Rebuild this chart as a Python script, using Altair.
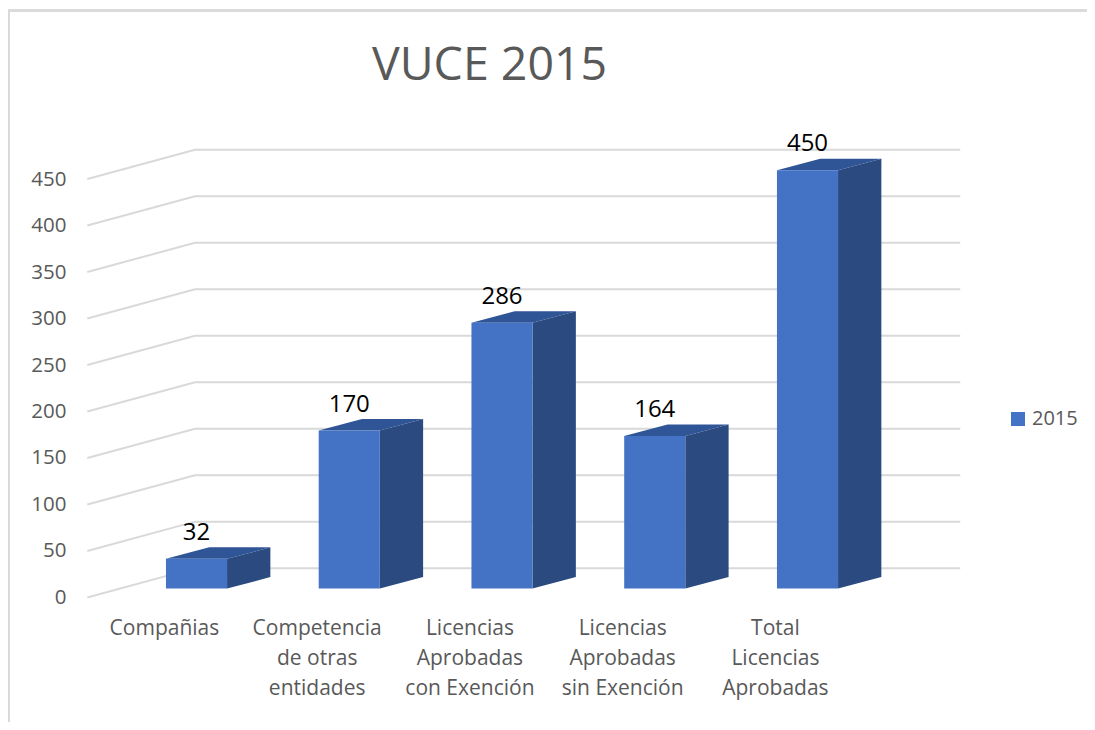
import altair as alt
import pandas as pd

# --- chart values ---
TITLE = "VUCE 2015"
SERIES = "2015"
categories = [
    "Compañias",
    "Competencia\nde otras\nentidades",
    "Licencias\nAprobadas\ncon Exención",
    "Licencias\nAprobadas\nsin Exención",
    "Total\nLicencias\nAprobadas",
]
values = [32, 170, 286, 164, 450]
y_ticks = [0, 50, 100, 150, 200, 250, 300, 350, 400, 450]

FONT = "Open Sans"
GREY = "#595959"
FRONT, SIDE, TOP = "#4472C4", "#2A4A80", "#2F5597"
GRID = "#D9D9D9"

# 3-D projection constants, expressed in the units of the two scales
HALF = 0.2         # half a bar, in category units
DEPTH_X = 0.2835   # bar depth, in category units
DEPTH_Y = 12.4     # bar depth, in value units
FLOOR = 9.5        # how far the bars' base sits above the front axis zero
WALL_X0, WALL_X1, WALL_X2 = -0.715, -0.01, 5.0
WALL_Y = 31.5
LABEL_DX = -0.21
LABEL_Y = -22

W, H = 1079, 714
x_scale = alt.Scale(domain=[-1.2341, 5.8298], nice=False, zero=False)
y_scale = alt.Scale(domain=[-134.0, 634.0], nice=False, zero=False)

y_axis = alt.Axis(
    values=y_ticks, domain=False, ticks=False, grid=False, offset=-58, title=None,
    labelPadding=0, labelFont=FONT, labelFontSize=20.5, labelColor=GREY,
    labelOverlap=False, labelFlush=False)

X = lambda f: alt.X(f, type="quantitative", scale=x_scale, axis=None)
Y = lambda f: alt.Y(f, type="quantitative", scale=y_scale, axis=y_axis)

# --- tables built from the arrays ---
grid_rows, top_rows, side_rows, front_rows, label_rows, cat_rows = [], [], [], [], [], []
for t in y_ticks:
    grid_rows += [
        {"t": t, "x": WALL_X0, "y": t},
        {"t": t, "x": WALL_X1, "y": t + WALL_Y},
        {"t": t, "x": WALL_X2, "y": t + WALL_Y},
    ]
for i, (c, v) in enumerate(zip(categories, values)):
    xl, xr = i - HALF, i + HALF
    top, base = v + FLOOR, FLOOR
    front_rows.append({"c": c, "x": xl, "x2": xr, "y": top, "y2": base, "serie": SERIES})
    side_rows += [
        {"c": c, "x": xr, "y": top, "y2": base},
        {"c": c, "x": xr + DEPTH_X, "y": top + DEPTH_Y, "y2": base + DEPTH_Y},
    ]
    top_rows += [
        {"c": c, "x": xl, "y": top, "y2": top},
        {"c": c, "x": xl + DEPTH_X, "y": top + DEPTH_Y, "y2": top},
        {"c": c, "x": xr, "y": top + DEPTH_Y, "y2": top},
        {"c": c, "x": xr + DEPTH_X, "y": top + DEPTH_Y, "y2": top + DEPTH_Y},
    ]
    label_rows.append({"x": i, "y": top, "v": v})
    cat_rows.append({"x": i + LABEL_DX, "y": LABEL_Y, "c": c})

df_grid = pd.DataFrame(grid_rows)
df_top = pd.DataFrame(top_rows)
df_side = pd.DataFrame(side_rows)
df_front = pd.DataFrame(front_rows)
df_label = pd.DataFrame(label_rows)
df_cat = pd.DataFrame(cat_rows)
df_axis = pd.DataFrame({"t": y_ticks})

# --- layers ---
frame_left = alt.Chart(df_axis).mark_rule(color=GRID, strokeWidth=1.5).encode(
    x=alt.value(0.75), y=alt.value(2.5), y2=alt.value(H))
frame_top = alt.Chart(df_axis).mark_rule(color=GRID, strokeWidth=1.5).encode(
    x=alt.value(0), x2=alt.value(W), y=alt.value(2.5))

grid = alt.Chart(df_grid).mark_line(color=GRID, strokeWidth=2).encode(
    x=X("x"), y=Y("y"), detail="t:N", order="x:Q")
top_face = alt.Chart(df_top).mark_area(color=TOP).encode(
    x=X("x"), y=Y("y"), y2="y2:Q", detail="c:N")
side_face = alt.Chart(df_side).mark_area(color=SIDE).encode(
    x=X("x"), y=Y("y"), y2="y2:Q", detail="c:N")
front_face = alt.Chart(df_front).mark_rect().encode(
    x=X("x"), x2="x2:Q", y=Y("y"), y2="y2:Q",
    color=alt.Color("serie:N", scale=alt.Scale(domain=[SERIES], range=[FRONT]),
                    legend=alt.Legend(title=None, orient="none", legendX=1000, legendY=401,
                                      symbolType="square", symbolSize=196, symbolStrokeWidth=0,
                                      labelFont=FONT, labelFontSize=20, labelColor=GREY,
                                      labelOffset=4)),
)
data_labels = alt.Chart(df_label).mark_text(
    font=FONT, fontSize=24, color="#000000", baseline="middle", dy=-26
).encode(x=X("x"), y=Y("y"), text="v:Q")
cat_labels = alt.Chart(df_cat).mark_text(
    font=FONT, fontSize=21, color=GREY, baseline="top", align="center",
    lineBreak="\n", lineHeight=30
).encode(x=X("x"), y=Y("y"), text="c:N")

chart = alt.layer(
    frame_left, frame_top, grid, top_face, side_face, front_face, data_labels, cat_labels
).properties(
    width=W, height=H,
    padding=0,
    autosize=alt.AutoSizeParams(type="none"),
    title=alt.TitleParams(TITLE, anchor="start", frame="group", dx=364, offset=-81,
                          font=FONT, fontSize=46.5, fontWeight="normal", color=GREY),
).configure_view(stroke=None)

chart.save("out.html", embed_options={"renderer": "svg", "actions": False})
